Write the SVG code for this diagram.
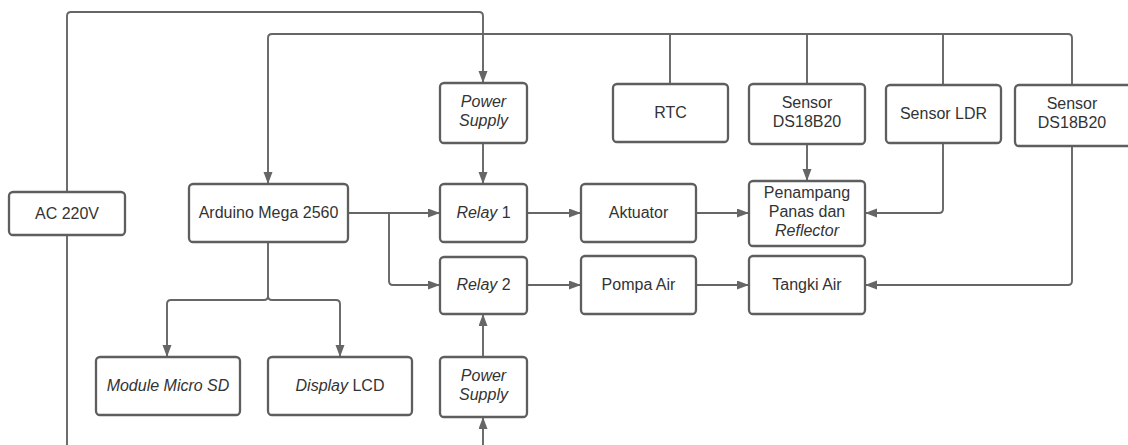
<svg xmlns="http://www.w3.org/2000/svg" width="1128" height="445" viewBox="0 0 1128 445">
  <style>
    .box { fill: #ffffff; stroke: #5e5e5e; stroke-width: 2.3; }
    .wire { fill: none; stroke: #666666; stroke-width: 1.9; }
    .arrow { marker-end: url(#head); }
    text { font-family: "Liberation Sans", Arial, sans-serif; font-size: 16px; fill: #333333; text-anchor: middle; }
    .it { font-style: italic; }
  </style>
  <defs>
    <marker id="head" markerUnits="userSpaceOnUse" markerWidth="13" markerHeight="10" refX="12" refY="4.5" orient="auto">
      <path d="M0,0 L12,4.5 L0,9 z" fill="#666666"/>
    </marker>
  </defs>

  <rect width="1128" height="445" fill="#ffffff"/>

  <!-- connectors -->
  <g id="connectors">
    <!-- mains to both power supplies -->
    <path class="wire arrow" d="M67,191 V16 Q67,12 71,12 H479 Q483,12 483,16 V83"/>
    <path class="wire arrow" d="M67,235 V444 Q67,448 71,448 H479 Q483,448 483,444 V417"/>
    <!-- sensor bus into the Arduino -->
    <path class="wire arrow" d="M1072,85 V38 Q1072,34 1068,34 H272 Q268,34 268,38 V184"/>
    <path class="wire" d="M670,84 V34"/>
    <path class="wire" d="M807,84 V34"/>
    <path class="wire" d="M943,85 V34"/>
    <!-- power to relays -->
    <path class="wire arrow" d="M483,143 V184"/>
    <path class="wire arrow" d="M483,357 V314"/>
    <!-- Arduino outputs -->
    <path class="wire arrow" d="M348,213 H440"/>
    <path class="wire arrow" d="M389,213 V281 Q389,285 393,285 H440"/>
    <path class="wire arrow" d="M268,242 V296 Q268,300 264,300 H171 Q167,300 167,304 V357"/>
    <path class="wire arrow" d="M268,296 Q268,300 272,300 H336 Q340,300 340,304 V357"/>
    <!-- actuator chain -->
    <path class="wire arrow" d="M527,213 H581"/>
    <path class="wire arrow" d="M696,213 H749"/>
    <path class="wire arrow" d="M807,144 V181"/>
    <path class="wire arrow" d="M943,143 V209 Q943,213 939,213 H865"/>
    <!-- pump chain -->
    <path class="wire arrow" d="M527,285 H581"/>
    <path class="wire arrow" d="M696,285 H749"/>
    <path class="wire arrow" d="M1072,146 V281 Q1072,285 1068,285 H865"/>
  </g>

  <g id="ac220">
    <rect class="box" x="9" y="192" width="116" height="43" rx="4"/>
    <text x="67" y="219">AC 220V</text>
  </g>

  <g id="arduino">
    <rect class="box" x="189" y="184" width="159" height="58" rx="4"/>
    <text x="268.5" y="218">Arduino Mega 2560</text>
  </g>

  <g id="power-supply-top">
    <rect class="box" x="440" y="83" width="87" height="60" rx="4"/>
    <text class="it" x="483.5" y="107">Power</text>
    <text class="it" x="483.5" y="126">Supply</text>
  </g>

  <g id="rtc">
    <rect class="box" x="613" y="84" width="115" height="58" rx="4"/>
    <text x="670.5" y="118">RTC</text>
  </g>

  <g id="sensor-ds18b20-1">
    <rect class="box" x="749" y="84" width="116" height="60" rx="4"/>
    <text x="807" y="108">Sensor</text>
    <text x="807" y="127">DS18B20</text>
  </g>

  <g id="sensor-ldr">
    <rect class="box" x="886" y="85" width="115" height="58" rx="4"/>
    <text x="943.5" y="119">Sensor LDR</text>
  </g>

  <g id="sensor-ds18b20-2">
    <rect class="box" x="1015" y="85" width="118" height="61" rx="4"/>
    <text x="1072" y="109">Sensor</text>
    <text x="1072" y="128">DS18B20</text>
  </g>

  <g id="relay1">
    <rect class="box" x="440" y="184" width="87" height="58" rx="4"/>
    <text x="483.5" y="218"><tspan class="it">Relay</tspan> 1</text>
  </g>

  <g id="relay2">
    <rect class="box" x="440" y="257" width="87" height="57" rx="4"/>
    <text x="483.5" y="290"><tspan class="it">Relay</tspan> 2</text>
  </g>

  <g id="aktuator">
    <rect class="box" x="581" y="184" width="115" height="58" rx="4"/>
    <text x="638.5" y="218">Aktuator</text>
  </g>

  <g id="pompa-air">
    <rect class="box" x="581" y="256" width="115" height="58" rx="4"/>
    <text x="638.5" y="290">Pompa Air</text>
  </g>

  <g id="penampang">
    <rect class="box" x="749" y="181" width="116" height="65" rx="4"/>
    <text x="807" y="198">Penampang</text>
    <text x="807" y="217">Panas dan</text>
    <text class="it" x="807" y="236">Reflector</text>
  </g>

  <g id="tangki-air">
    <rect class="box" x="749" y="256" width="116" height="58" rx="4"/>
    <text x="807" y="290">Tangki Air</text>
  </g>

  <g id="micro-sd">
    <rect class="box" x="96" y="357" width="144" height="58" rx="4"/>
    <text class="it" x="168" y="391">Module Micro SD</text>
  </g>

  <g id="lcd">
    <rect class="box" x="268" y="357" width="144" height="58" rx="4"/>
    <text x="340" y="391"><tspan class="it">Display</tspan> LCD</text>
  </g>

  <g id="power-supply-bottom">
    <rect class="box" x="440" y="357" width="87" height="60" rx="4"/>
    <text class="it" x="483.5" y="381">Power</text>
    <text class="it" x="483.5" y="400">Supply</text>
  </g>
</svg>
